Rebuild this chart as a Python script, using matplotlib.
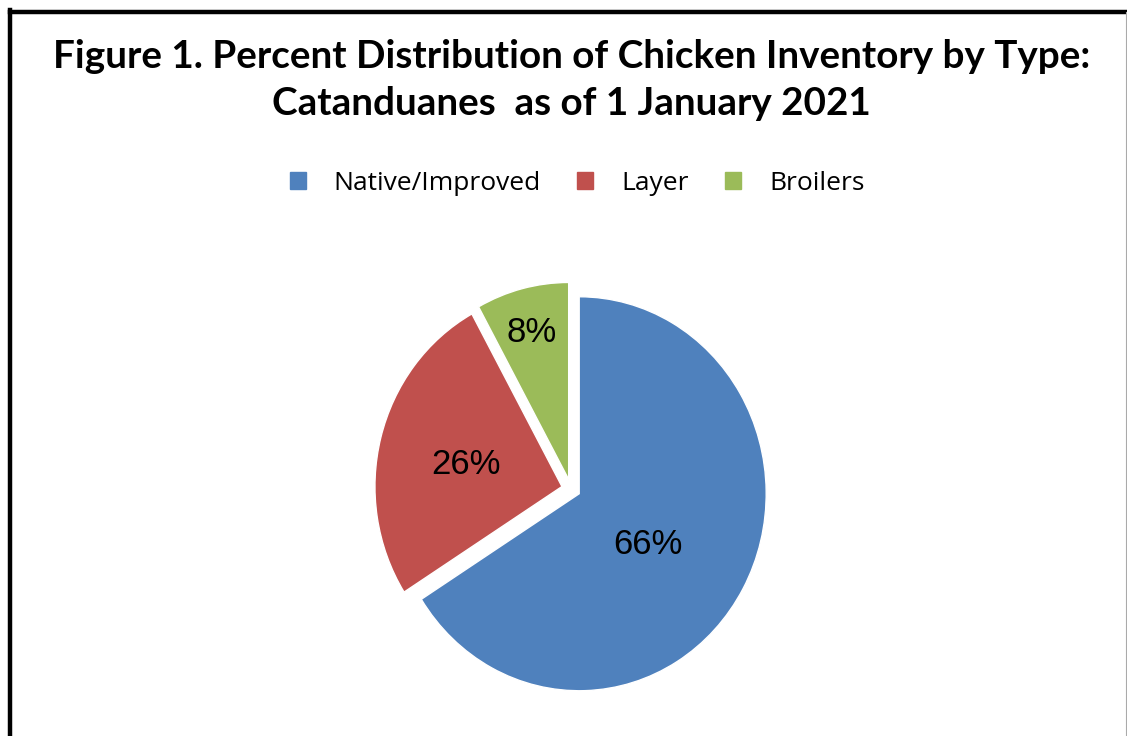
import matplotlib
matplotlib.use('Agg')
import matplotlib.pyplot as plt
from matplotlib.lines import Line2D
from matplotlib.patches import Patch
import numpy as np

categories = ['Native/Improved', 'Layer', 'Broilers']
shares = [66, 26, 8]
colors = ['#4F81BD', '#C0504D', '#9BBB59']
label_radius = [0.44, 0.53, 0.79]
label_turn = [-4, 0, 0]   # degrees, small nudge of the label direction

title = 'Figure 1. Percent Distribution of Chicken Inventory by Type:\nCatanduanes  as of 1 January 2021'

W, H = 1127, 736
fig = plt.figure(figsize=(W / 100, H / 100), dpi=100)
fig.patch.set_facecolor('white')

# pie axes: centre at (571, 489) px from top; the original is a bit stretched vertically
cx, cy, rx, ry = 571, H - 489, 187, 197
span = 1.2
ax = fig.add_axes([(cx - rx * span) / W, (cy - ry * span) / H,
                   2 * rx * span / W, 2 * ry * span / H])
wedges, texts, autotexts = ax.pie(
    shares, colors=colors, startangle=90, counterclock=False,
    explode=[0.05, 0.05, 0.05], autopct='%d%%',
    wedgeprops=dict(edgecolor='white', linewidth=1),
    textprops=dict(fontsize=25, family='Liberation Sans', color='black'))
ax.set_xlim(-span, span)
ax.set_ylim(-span, span)
ax.set_aspect('auto')
ax.axis('off')

# move the percentage labels to the spots used in the original
for w, t, lr, turn in zip(wedges, autotexts, label_radius, label_turn):
    mid = np.deg2rad((w.theta1 + w.theta2) / 2 + turn)
    x0, y0 = w.center
    t.set_position((x0 + lr * np.cos(mid), y0 + lr * np.sin(mid)))
    t.set_va('center_baseline')

fig.text(0.507, 1 - 80 / H, title, ha='center', va='center',
         fontsize=27.8, fontweight='bold', family='Lato', linespacing=1.42)

handles = [Patch(facecolor=c, edgecolor=c) for c in colors]
fig.legend(handles, categories, loc='center', bbox_to_anchor=(577 / W, 1 - 183 / H),
           ncol=3, frameon=False, handlelength=0.6, handleheight=0.6,
           handletextpad=1.05, columnspacing=1.4, prop=dict(family='Open Sans', size=19))

# frame around the chart area
fig.add_artist(Line2D([9.5 / W, 9.5 / W], [0, 1 - 10 / H], color='black', lw=3.2,
                      transform=fig.transFigure, solid_capstyle='projecting'))
fig.add_artist(Line2D([9.5 / W, 1], [1 - 11.5 / H, 1 - 11.5 / H], color='black', lw=3.2,
                      transform=fig.transFigure, solid_capstyle='projecting'))
fig.add_artist(Line2D([1125.5 / W, 1125.5 / W], [0, 1 - 11.5 / H], color='#aaaaaa', lw=0.8,
                      transform=fig.transFigure))

fig.savefig('out.png', dpi=100)
